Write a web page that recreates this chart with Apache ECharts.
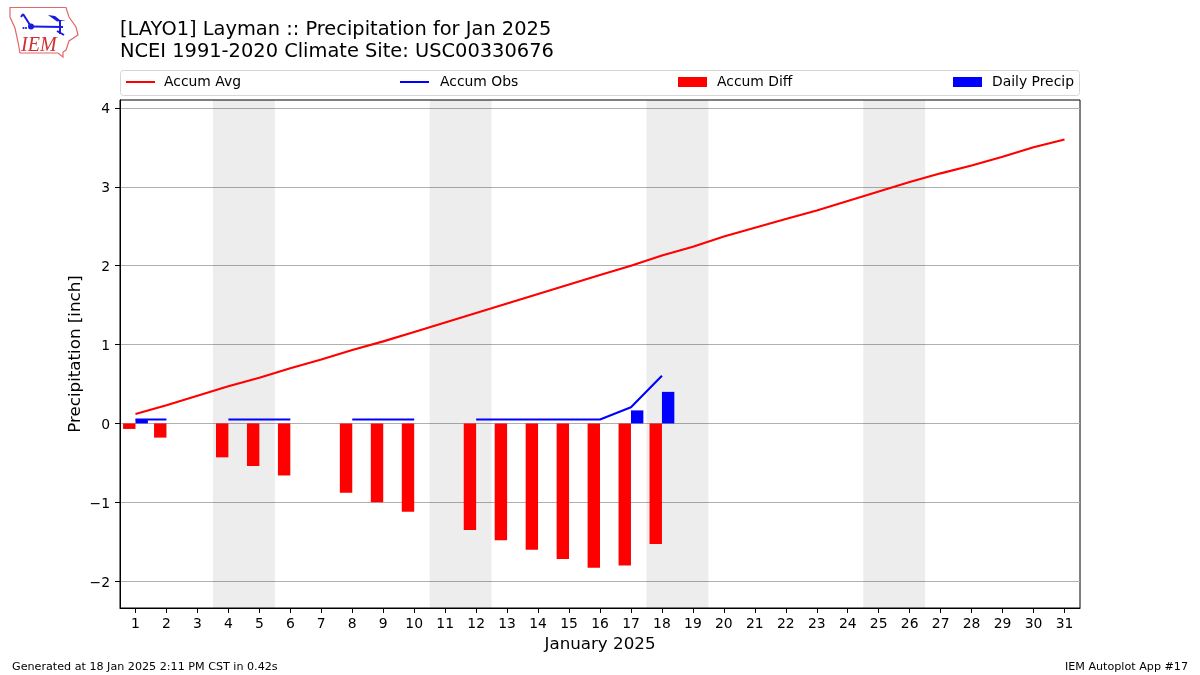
<!DOCTYPE html>
<html>
<head>
<meta charset="utf-8">
<style>html,body{margin:0;padding:0;background:#fff}#c{width:1200px;height:675px}</style>
<script src="https://cdn.jsdelivr.net/npm/echarts@6/dist/echarts.min.js"></script>
</head>
<body>
<div id="c"></div>
<script>
const days = ['1','2','3','4','5','6','7','8','9','10','11','12','13','14','15','16','17','18','19','20','21','22','23','24','25','26','27','28','29','30','31'];
const accumAvg = [0.12,0.23,0.35,0.47,0.58,0.70,0.81,0.93,1.04,1.16,1.28,1.40,1.52,1.64,1.76,1.88,2.00,2.13,2.24,2.37,2.48,2.59,2.70,2.82,2.94,3.06,3.17,3.27,3.38,3.50,3.60];
const accumObs = [0.05,0.05,null,0.05,0.05,0.05,null,0.05,0.05,0.05,null,0.05,0.05,0.05,0.05,0.05,0.205,0.605];
const accumDiff = [-0.07,-0.18,null,-0.43,-0.54,-0.66,null,-0.88,-1.00,-1.12,null,-1.35,-1.48,-1.60,-1.72,-1.83,-1.80,-1.53];
const dailyPrecip = [0.05,0,null,0,0,0,null,0,0,0,null,0,0,0,0,0,0.165,0.40];
const weekendBands = [[3.5,5.5],[10.5,12.5],[17.5,19.5],[24.5,26.5]];
const yTicks = [-2,-1,0,1,2,3,4];
const titleLines = ['[LAYO1] Layman :: Precipitation for Jan 2025','NCEI 1991-2020 Climate Site: USC00330676'];

const FONT = '"DejaVu Sans"';
const chart = echarts.init(document.getElementById('c'), null, {renderer:'canvas', width:1200, height:675});

function legendAt(name, left, h, pad){
  return {show:true, data:[{name:name, icon:'rect'}], left:left, top:75, itemWidth:29, itemHeight:h, itemGap:0,
    padding:0, lineStyle:{width:2},
    textStyle:{fontFamily:FONT, fontSize:13.9, color:'#000', padding:[0,0,0,pad]}, selectedMode:false};
}
const logoBlue = {stroke:'#1a1ae0', lineWidth:2, fill:null};

chart.setOption({
  animation:false,
  backgroundColor:'#fff',
  grid:{left:120, top:100, width:960, height:508, show:true, borderColor:'#000', borderWidth:1, backgroundColor:'transparent', containLabel:false},
  legend:[legendAt('Accum Avg',126,2,4),legendAt('Accum Obs',400,2,6),legendAt('Accum Diff',678,10,5),legendAt('Daily Precip',953,10,5)],
  title:[
    {text:titleLines[0], left:120, top:20, padding:0, textStyle:{fontFamily:FONT, fontSize:19.42, fontWeight:'normal', color:'#000'}},
    {text:titleLines[1], left:120, top:42, padding:0, textStyle:{fontFamily:FONT, fontSize:19.42, fontWeight:'normal', color:'#000'}},
    {text:'Generated at 18 Jan 2025 2:11 PM CST in 0.42s', left:12, top:662, padding:0, textStyle:{fontFamily:FONT, fontSize:11.15, fontWeight:'normal', color:'#000'}},
    {text:'IEM Autoplot App #17', right:12, top:662, padding:0, textStyle:{fontFamily:FONT, fontSize:11.15, fontWeight:'normal', color:'#000'}}
  ],
  xAxis:[
    {type:'category', data:days, position:'bottom', boundaryGap:true,
     name:'January 2025', nameLocation:'middle', nameGap:28,
     nameTextStyle:{fontFamily:FONT, fontSize:16.7, color:'#000'},
     axisLine:{show:true, onZero:false, lineStyle:{color:'#000', width:1}},
     axisTick:{show:true, inside:false, alignWithLabel:true, length:5, lineStyle:{color:'#000', width:1}},
     axisLabel:{interval:0, fontFamily:FONT, fontSize:13.9, color:'#000', margin:9},
     splitLine:{show:false}},
    {type:'value', min:0.5, max:31.5, show:false, position:'bottom'}
  ],
  yAxis:{type:'value', min:-2.34, max:4.1,
    name:'Precipitation [inch]', nameLocation:'middle', nameGap:36, nameMoveOverlap:false,
    nameTextStyle:{fontFamily:FONT, fontSize:16.7, color:'#000'},
    axisLine:{show:true, onZero:false, lineStyle:{color:'#000', width:1}},
    axisTick:{show:true, inside:false, length:5, customValues:yTicks, lineStyle:{color:'#000', width:1}},
    axisLabel:{fontFamily:FONT, fontSize:13.9, color:'#000', margin:10, customValues:yTicks,
      rich:{a:{fontFamily:FONT, fontSize:13.9, color:'#000', padding:[4,0,0,0]}},
      formatter:v=>'{a|'+String(v).replace('-','\u2212')+'}'},
    splitLine:{show:true, lineStyle:{color:'#b0b0b0', width:1}}
  },
  series:[
    {name:'Weekend', type:'line', xAxisIndex:1, data:[], silent:true, z:1,
     markArea:{silent:true, itemStyle:{color:'rgba(0,0,0,0.07)', borderWidth:0},
       data:weekendBands.map(b=>[{xAxis:b[0]},{xAxis:b[1]}])}},
    {name:'Accum Diff', type:'bar', data:accumDiff, barWidth:12.4, barGap:0, itemStyle:{color:'#ff0000'}, z:3},
    {name:'Daily Precip', type:'bar', data:dailyPrecip, barWidth:12.4, barGap:0, itemStyle:{color:'#0000ff'}, z:3},
    {name:'Accum Avg', type:'line', data:accumAvg, showSymbol:false, symbol:'none', lineStyle:{color:'#ff0000', width:2.1}, itemStyle:{color:'#ff0000'}, z:4},
    {name:'Accum Obs', type:'line', data:accumObs, connectNulls:false, showSymbol:false, symbol:'none', lineStyle:{color:'#0000ff', width:2.1}, itemStyle:{color:'#0000ff'}, z:4}
  ],
  graphic:[
    {type:'rect', shape:{x:120.5,y:70.5,width:959,height:25,r:3}, style:{fill:'#fff', stroke:'#d6d6d6', lineWidth:1}, z:-1},
    {type:'polygon', shape:{points:[[10,7.5],[66,7.5],[69,17],[76,27],[78,35],[69,41],[66,50],[63,52],[63,57],[58,53],[20,53],[18,42],[15,28],[10,17]]}, style:{fill:'#fff', stroke:'#e06868', lineWidth:1.2}},
    {type:'polyline', shape:{points:[[31,26.5],[63,27]]}, style:logoBlue},
    {type:'polyline', shape:{points:[[31,26.5],[23,14]]}, style:logoBlue},
    {type:'polyline', shape:{points:[[23,14],[21,17]]}, style:logoBlue},
    {type:'polyline', shape:{points:[[60,20],[60,34]]}, style:logoBlue},
    {type:'polyline', shape:{points:[[57,31],[64,35]]}, style:logoBlue},
    {type:'circle', shape:{cx:31,cy:26.5,r:3}, style:{fill:'#1a1ae0'}},
    {type:'polygon', shape:{points:[[48,15],[55,16],[60,20],[66,20.5],[57,21.5]]}, style:{fill:'#1a1ae0'}},
    {type:'circle', shape:{cx:23.5,cy:28,r:1.1}, style:{fill:'#1a1ae0'}},
    {type:'circle', shape:{cx:26,cy:28,r:1.1}, style:{fill:'#1a1ae0'}},
    {type:'text', x:21, y:36, style:{text:'IEM', font:'italic 20px "Liberation Serif"', fill:'#d03030'}}
  ]
});
</script>
</body>
</html>
